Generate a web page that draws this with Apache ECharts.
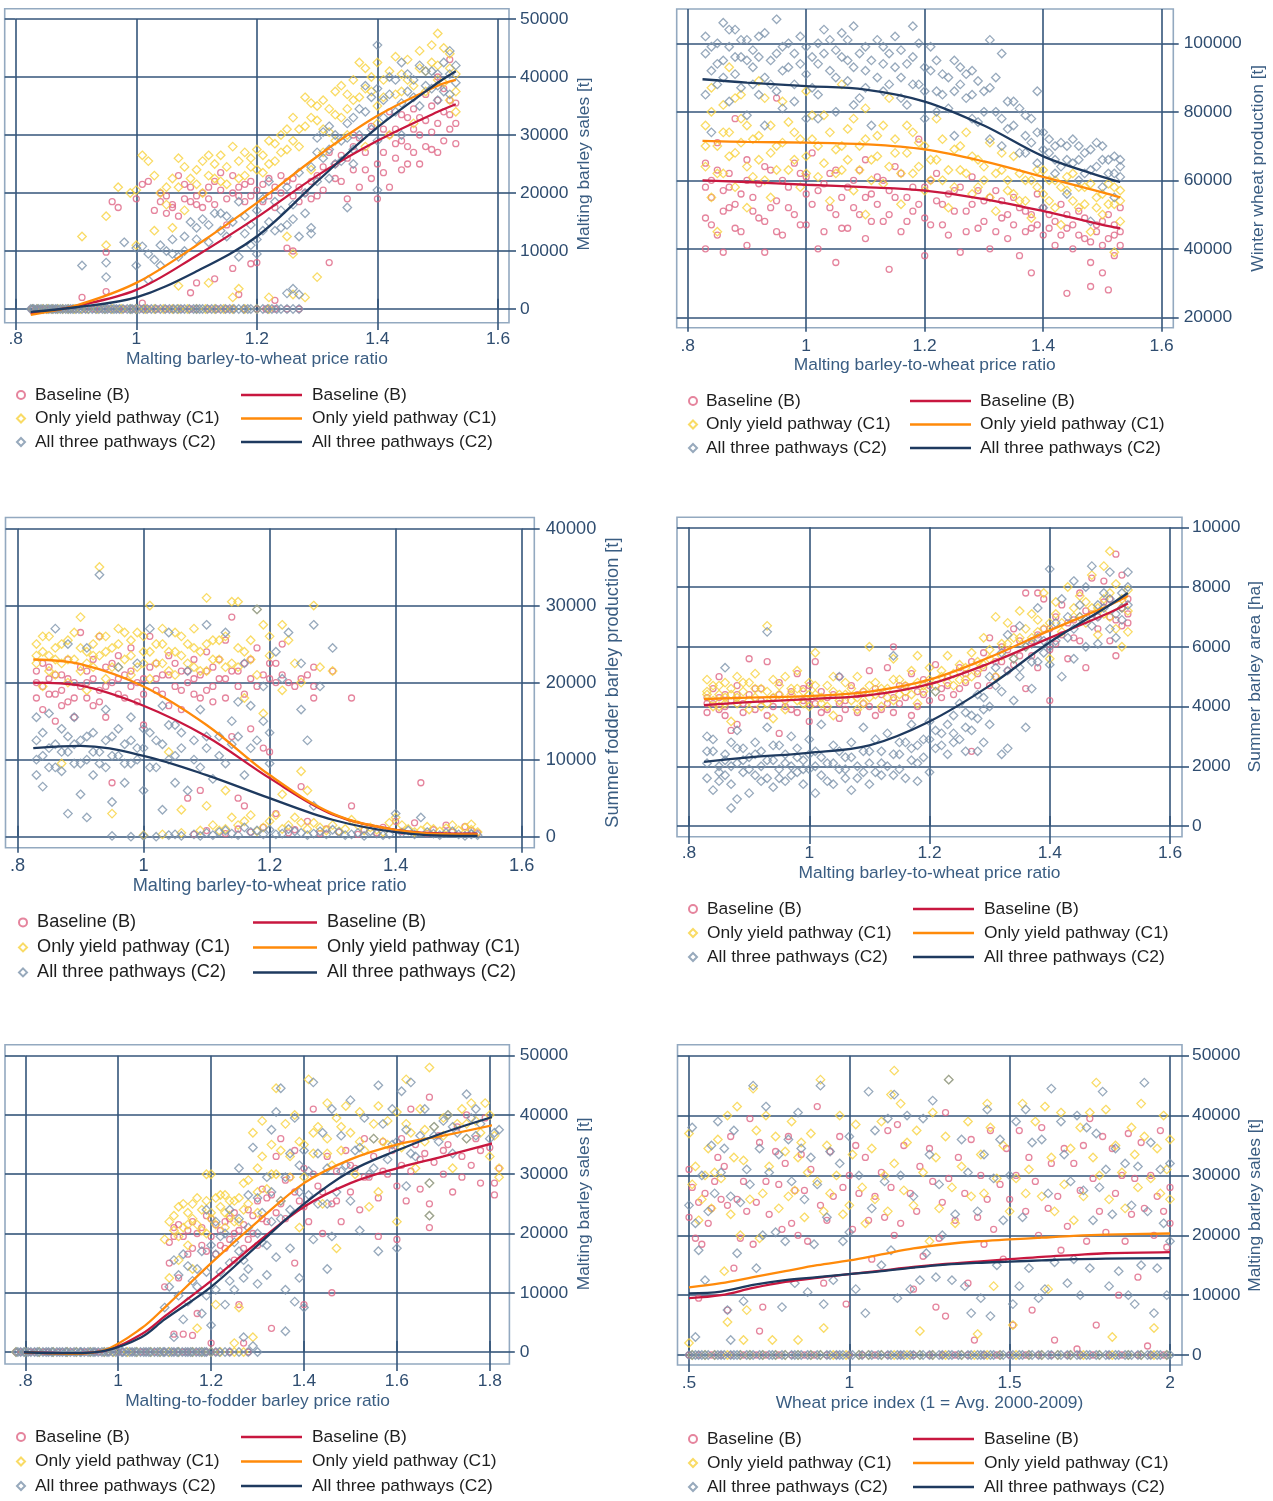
<!DOCTYPE html>
<html>
<head>
<meta charset="utf-8">
<script src="https://cdn.jsdelivr.net/npm/echarts@6/dist/echarts.min.js"></script>
<style>html,body{margin:0;padding:0;background:#fff}#c{width:1273px;height:1501px}</style>
</head>
<body>
<div id="c"></div>
<script>
// ---------- Series names ----------
const NAMES = ['Baseline (B)', 'Only yield pathway (C1)', 'All three pathways (C2)'];

// ---------- Panel 1: Malting barley sales vs malting barley-to-wheat price ratio ----------
const P1_B = [[0.91,2000],[0.95,3000],[0.95,9800],[0.96,18500],[0.97,17500],[1.01,1000],[1.01,21500],[1.02,22000],[1.04,20000],[1.04,18500],[1.05,16500],[1.06,17500],[1.06,18000],[1.07,16000],[1.07,23000],[1.08,19000],[1.09,2800],[1.09,18500],[1.1,19500],[1.1,4500],[1.1,18000],[1.11,20000],[1.12,21000],[1.12,19000],[1.13,5200],[1.13,18000],[1.13,22000],[1.14,20500],[1.15,19000],[1.15,14500],[1.16,23000],[1.16,7000],[1.17,19500],[1.17,21000],[1.17,2500],[1.18,18500],[1.19,22000],[1.19,7800],[1.2,20500],[1.2,8000],[1.21,21500],[1.22,19500],[1.22,22500],[1.23,21000],[1.23,1500],[1.24,20000],[1.25,22000],[1.25,10500],[1.26,19500],[1.26,10000],[1.27,21000],[1.28,20000],[1.29,19000],[1.3,23000],[1.31,24500],[1.32,27000],[1.32,8000],[1.33,25000],[1.34,22000],[1.35,19000],[1.35,26000],[1.36,28000],[1.37,21000],[1.38,24000],[1.39,22500],[1.4,25000],[1.4,19000],[1.41,27000],[1.42,21000],[1.42,30000],[1.43,26000],[1.43,31000],[1.44,29000],[1.45,25000],[1.45,33000],[1.46,31000],[1.46,27000],[1.47,25000],[1.47,33000],[1.48,28000],[1.48,37000],[1.49,30500],[1.49,35000],[1.5,27000],[1.5,32000],[1.5,40000],[1.51,34000],[1.51,29000],[1.52,31000],[1.52,36000],[1.52,43000],[1.53,28500],[1.53,32000]];
const P1_B_MORE = [[1.0,19000],[1.03,17000],[1.08,21500],[1.11,17500],[1.14,23500],[1.18,21500],[1.21,18500],[1.24,23000],[1.27,18500],[1.29,22000],[1.31,20500],[1.33,22500],[1.34,26500],[1.36,24000],[1.37,29500],[1.38,27000],[1.39,31500],[1.41,23500],[1.43,28500],[1.44,33500],[1.45,28000],[1.46,34500],[1.47,30000],[1.48,32500],[1.49,27500],[1.5,36000],[1.51,38000],[1.52,33500],[1.53,35500],[1.44,24000],[1.41,31000],[1.36,30000],[1.3,19500],[1.23,17500],[1.16,20000],[1.09,21000],[1.05,19500],[1.19,19500],[1.26,22500],[1.42,34000]];
const P1_B_ZERO = [0.826,0.833,0.84,0.848,0.857,0.865,0.872,0.88,0.89,0.9,0.915,0.93,0.94,0.955,0.97,0.98,0.995,1.01,1.02,1.035,1.05,1.06,1.075,1.09,1.1,1.12,1.135,1.15,1.16,1.18,1.2,1.215,1.23,1.25,1.27];
const P1_C1 = [[0.91,12500],[0.95,16000],[0.95,11000],[0.97,21000],[0.99,20000],[1.0,11000],[1.01,26500],[1.02,25500],[1.03,13500],[1.04,20000],[1.05,21000],[1.05,18000],[1.06,14000],[1.07,26000],[1.07,21000],[1.07,4000],[1.08,17000],[1.09,22500],[1.1,24000],[1.11,20000],[1.12,26500],[1.12,23000],[1.12,4500],[1.13,25000],[1.14,22000],[1.15,24500],[1.16,28000],[1.16,2000],[1.17,25500],[1.17,3500],[1.18,23000],[1.19,26000],[1.2,24000],[1.21,26500],[1.22,25000],[1.22,2000],[1.23,28500],[1.24,30000],[1.25,27500],[1.25,12500],[1.26,29000],[1.26,9500],[1.26,2500],[1.27,31000],[1.28,36500],[1.28,2000],[1.29,33000],[1.29,24000],[1.3,35000],[1.3,5500],[1.31,31000],[1.31,27000],[1.32,34500],[1.33,37500],[1.33,29000],[1.34,33000],[1.35,37000],[1.35,30000],[1.36,36000],[1.37,42500],[1.38,38000],[1.38,28000],[1.39,40000],[1.4,35000],[1.4,32000],[1.41,39500],[1.42,41000],[1.42,30000],[1.43,37000],[1.44,40500],[1.45,43000],[1.46,38500],[1.46,32000],[1.47,44500],[1.48,41000],[1.49,45500],[1.5,47500],[1.5,42000],[1.51,39000],[1.52,44000],[1.52,36000],[1.53,40500],[1.53,34000]];
const P1_C1_MORE = [[1.0,20500],[1.03,23000],[1.06,22500],[1.08,24500],[1.1,21500],[1.11,25500],[1.13,22500],[1.14,26500],[1.15,21500],[1.17,22500],[1.18,27000],[1.19,24500],[1.2,27500],[1.21,23500],[1.22,29000],[1.23,25500],[1.24,27000],[1.25,31000],[1.26,33000],[1.27,28000],[1.28,31500],[1.29,35500],[1.3,32500],[1.31,36000],[1.32,30500],[1.33,33500],[1.34,38500],[1.35,34500],[1.36,39500],[1.37,36500],[1.38,41500],[1.39,37500],[1.4,42500],[1.41,36500],[1.43,43500],[1.44,37500],[1.45,39500],[1.47,41500],[1.48,37500],[1.49,42500],[1.5,39500],[1.51,45000],[1.52,41500],[1.53,37500]];
const P1_C1_ZERO = [0.828,0.836,0.845,0.853,0.861,0.87,0.878,0.887,0.897,0.908,0.92,0.935,0.948,0.96,0.975,0.99,1.0,1.015,1.03,1.045,1.06,1.07,1.085,1.1,1.115,1.13,1.145,1.16,1.18,1.2,1.22];
const P1_C2 = [[0.91,7500],[0.95,5500],[0.95,8000],[0.98,11500],[1.0,10500],[1.0,7500],[1.01,10800],[1.02,5000],[1.03,8500],[1.04,7500],[1.05,10000],[1.06,9500],[1.07,9000],[1.08,12500],[1.09,15000],[1.1,12000],[1.11,15500],[1.12,14500],[1.13,16500],[1.14,13500],[1.15,16000],[1.16,15000],[1.17,18500],[1.17,9000],[1.18,13000],[1.19,11000],[1.2,17000],[1.2,9500],[1.21,19000],[1.21,13500],[1.22,22000],[1.22,15000],[1.23,13500],[1.24,17000],[1.25,14500],[1.25,21000],[1.25,2700],[1.26,18000],[1.26,3500],[1.27,12500],[1.27,23500],[1.27,2500],[1.28,16500],[1.29,13000],[1.29,14000],[1.3,22000],[1.3,29500],[1.31,26000],[1.32,31500],[1.32,22500],[1.33,25000],[1.34,29000],[1.35,17500],[1.35,32000],[1.36,27500],[1.36,25000],[1.37,34500],[1.38,38500],[1.39,31000],[1.4,29000],[1.4,20500],[1.4,45500],[1.41,36000],[1.42,40000],[1.43,34000],[1.44,42500],[1.44,30000],[1.45,37500],[1.46,39500],[1.47,35000],[1.48,41000],[1.49,38000],[1.5,40500],[1.5,36000],[1.51,42500],[1.52,37000],[1.52,44500],[1.53,39000]];
const P1_C2_MORE = [[1.02,9500],[1.04,11000],[1.06,12000],[1.08,10000],[1.1,14000],[1.12,11500],[1.14,16500],[1.15,12500],[1.18,16000],[1.19,14500],[1.2,12000],[1.23,18500],[1.24,14000],[1.26,15500],[1.28,20000],[1.29,24500],[1.3,27000],[1.31,30500],[1.32,27500],[1.33,30000],[1.34,25500],[1.35,29500],[1.36,33000],[1.37,30000],[1.38,34000],[1.39,36500],[1.4,38000],[1.41,33000],[1.42,37000],[1.43,39500],[1.44,35500],[1.45,40500],[1.46,36500],[1.47,42000],[1.48,38500],[1.49,41000],[1.5,38500],[1.51,37500],[1.52,40500],[1.53,42000]];
const P1_C2_ZERO = [0.825,0.828,0.83,0.835,0.838,0.842,0.846,0.851,0.855,0.859,0.862,0.866,0.869,0.874,0.878,0.883,0.887,0.891,0.895,0.9,0.905,0.91,0.916,0.921,0.927,0.933,0.938,0.944,0.948,0.952,0.958,0.963,0.967,0.972,0.978,0.985,0.99,0.993,0.999,1.005,1.012,1.018,1.025,1.032,1.04,1.048,1.055,1.062,1.068,1.074,1.08,1.088,1.095,1.1,1.105,1.11,1.118,1.125,1.132,1.14,1.148,1.155,1.162,1.17,1.178,1.185,1.19,1.2,1.21,1.218,1.225,1.233,1.24,1.25,1.26,1.27];
const P1_FIT_B  = [[0.825,-800],[0.9,500],[1.0,3300],[1.1,9200],[1.2,15800],[1.3,23000],[1.4,29000],[1.5,34000],[1.53,35300]];
const P1_FIT_C1 = [[0.825,-1000],[0.9,600],[1.0,4500],[1.1,11000],[1.2,18300],[1.3,26300],[1.4,33300],[1.5,38500],[1.53,39500]];
const P1_FIT_C2 = [[0.825,-500],[0.9,300],[1.0,2000],[1.1,6500],[1.2,12500],[1.3,22000],[1.4,31300],[1.5,39000],[1.53,41000]];

// ---------- Panel 2: Winter wheat production ----------
const P2_B = [[0.83,65000],[0.83,49000],[0.83,40000],[0.84,55000],[0.84,60000],[0.85,44000],[0.85,71000],[0.86,57000],[0.86,39000],[0.87,52000],[0.87,62000],[0.88,78000],[0.88,46000],[0.89,56000],[0.9,66000],[0.9,41000],[0.91,51000],[0.92,59000],[0.93,48000],[0.93,39000],[0.94,63000],[0.95,54000],[0.95,84000],[0.96,44000],[0.97,58000],[0.98,50000],[0.99,62000],[1.0,56000],[1.0,47000],[1.01,68000],[1.02,40000],[1.03,59000],[1.04,52000],[1.05,36000],[1.05,63000],[1.06,55000],[1.07,46000],[1.08,60000],[1.09,50000],[1.1,66000],[1.1,43000],[1.11,56000],[1.12,61000],[1.13,48000],[1.14,34000],[1.14,57000],[1.15,64000],[1.16,45000],[1.17,55000],[1.18,51000],[1.19,72000],[1.2,38000],[1.2,58000],[1.21,47000],[1.22,62000],[1.23,53000],[1.24,44000],[1.25,57000],[1.26,39000],[1.27,51000],[1.28,61000],[1.29,46000],[1.3,54000],[1.31,40000],[1.32,57000],[1.33,49000],[1.34,43000],[1.35,55000],[1.36,38000],[1.37,51000],[1.38,33000],[1.38,46000],[1.39,56000],[1.4,44000],[1.41,50000],[1.42,41000],[1.43,53000],[1.44,27000],[1.44,46000],[1.45,40000],[1.46,51000],[1.47,43000],[1.48,36000],[1.48,29000],[1.49,47000],[1.5,41000],[1.5,33000],[1.51,28000],[1.51,50000],[1.52,38000],[1.52,44000],[1.53,41000],[1.53,52000]];
const P2_B_MORE = [[0.83,58000],[0.84,47000],[0.85,63000],[0.86,51000],[0.87,58000],[0.88,53000],[0.89,45000],[0.9,60000],[0.91,55000],[0.92,49000],[0.93,64000],[0.94,52000],[0.95,45000],[0.96,60000],[0.97,52000],[0.98,65000],[0.99,47000],[1.0,61000],[1.01,53000],[1.02,57000],[1.03,45000],[1.04,62000],[1.05,50000],[1.06,46000],[1.07,58000],[1.08,52000],[1.09,63000],[1.1,55000],[1.11,48000],[1.12,53000],[1.13,60000],[1.14,50000],[1.15,55000],[1.16,62000],[1.17,48000],[1.18,58000],[1.19,53000],[1.2,49000],[1.21,60000],[1.22,54000],[1.23,47000],[1.24,56000],[1.25,51000],[1.26,58000],[1.27,45000],[1.28,53000],[1.29,57000],[1.3,48000],[1.31,55000],[1.32,45000],[1.33,54000],[1.34,50000],[1.35,47000],[1.36,52000],[1.37,45000],[1.38,50000],[1.39,47000],[1.4,52000],[1.41,46000],[1.42,48000],[1.43,44000],[1.44,50000],[1.45,47000],[1.46,44000],[1.47,49000],[1.48,42000],[1.49,45000],[1.5,48000],[1.51,43000],[1.52,47000],[1.53,45000]];
const P2_C1 = [[0.83,76000],[0.83,64000],[0.84,55000],[0.84,87000],[0.85,70000],[0.85,45000],[0.86,82000],[0.86,62000],[0.87,74000],[0.87,93000],[0.88,58000],[0.88,68000],[0.89,78000],[0.89,85000],[0.9,64000],[0.9,52000],[0.91,72000],[0.92,89000],[0.92,66000],[0.93,60000],[0.94,76000],[0.94,55000],[0.95,70000],[0.96,83000],[0.97,63000],[0.98,74000],[0.99,58000],[1.0,67000],[1.0,86000],[1.01,72000],[1.02,61000],[1.03,79000],[1.04,54000],[1.05,69000],[1.06,88000],[1.06,63000],[1.07,75000],[1.08,57000],[1.09,70000],[1.1,81000],[1.1,50000],[1.11,66000],[1.12,73000],[1.13,59000],[1.14,84000],[1.15,68000],[1.16,53000],[1.17,76000],[1.18,62000],[1.19,71000],[1.2,57000],[1.21,66000],[1.22,78000],[1.23,60000],[1.24,52000],[1.25,69000],[1.26,63000],[1.27,74000],[1.28,56000],[1.29,66000],[1.3,60000],[1.31,71000],[1.32,51000],[1.33,63000],[1.34,57000],[1.35,67000],[1.36,54000],[1.37,60000],[1.38,49000],[1.39,58000],[1.4,63000],[1.41,54000],[1.42,60000],[1.43,47000],[1.44,57000],[1.45,62000],[1.46,52000],[1.47,58000],[1.48,45000],[1.49,55000],[1.5,50000],[1.51,59000],[1.52,53000],[1.52,39000],[1.53,48000],[1.53,57000]];
const P2_C1_MORE = [[0.83,70000],[0.84,80000],[0.85,62000],[0.86,74000],[0.87,67000],[0.88,84000],[0.89,71000],[0.9,76000],[0.91,61000],[0.92,73000],[0.93,84000],[0.94,68000],[0.95,63000],[0.96,71000],[0.97,77000],[0.98,66000],[0.99,72000],[1.0,62000],[1.01,79000],[1.02,70000],[1.03,65000],[1.04,74000],[1.05,62000],[1.06,70000],[1.07,66000],[1.08,78000],[1.09,63000],[1.1,72000],[1.11,60000],[1.12,67000],[1.13,76000],[1.14,64000],[1.15,72000],[1.16,62000],[1.17,68000],[1.18,74000],[1.19,64000],[1.2,70000],[1.21,60000],[1.22,66000],[1.23,72000],[1.24,63000],[1.25,58000],[1.26,70000],[1.27,62000],[1.28,67000],[1.29,58000],[1.3,64000],[1.31,55000],[1.32,62000],[1.33,68000],[1.34,60000],[1.35,56000],[1.36,62000],[1.37,54000],[1.38,60000],[1.39,63000],[1.4,56000],[1.41,60000],[1.42,52000],[1.43,58000],[1.44,61000],[1.45,54000],[1.46,58000],[1.47,53000],[1.48,59000],[1.49,52000],[1.5,56000],[1.51,53000],[1.52,58000],[1.53,54000]];
const P2_C2 = [[0.83,97000],[0.83,102000],[0.84,92000],[0.84,74000],[0.85,100000],[0.85,88000],[0.86,106000],[0.86,95000],[0.87,83000],[0.87,99000],[0.88,91000],[0.88,104000],[0.89,87000],[0.89,96000],[0.9,101000],[0.9,79000],[0.91,93000],[0.91,98000],[0.92,85000],[0.92,102000],[0.93,90000],[0.93,76000],[0.94,95000],[0.95,107000],[0.95,86000],[0.96,99000],[0.96,81000],[0.97,93000],[0.98,97000],[0.98,88000],[0.99,102000],[1.0,91000],[1.0,78000],[1.01,96000],[1.02,100000],[1.02,85000],[1.03,104000],[1.04,92000],[1.05,98000],[1.05,80000],[1.06,103000],[1.07,89000],[1.07,95000],[1.08,105000],[1.09,84000],[1.1,99000],[1.1,92000],[1.11,76000],[1.12,101000],[1.13,94000],[1.13,86000],[1.14,97000],[1.15,102000],[1.16,90000],[1.17,82000],[1.18,96000],[1.18,105000],[1.19,88000],[1.2,93000],[1.2,78000],[1.21,99000],[1.22,86000],[1.23,91000],[1.24,81000],[1.25,95000],[1.25,73000],[1.26,88000],[1.27,84000],[1.28,92000],[1.29,77000],[1.3,86000],[1.31,101000],[1.31,72000],[1.32,80000],[1.33,97000],[1.34,75000],[1.35,83000],[1.36,68000],[1.37,79000],[1.38,71000],[1.39,86000],[1.39,65000],[1.4,74000],[1.4,52000],[1.41,68000],[1.42,62000],[1.43,71000],[1.44,66000],[1.44,56000],[1.45,72000],[1.46,60000],[1.47,68000],[1.48,63000],[1.48,48000],[1.49,71000],[1.5,58000],[1.5,66000],[1.51,62000],[1.52,67000],[1.52,55000],[1.53,61000],[1.53,64000]];
const P2_C2_MORE = [[0.83,85000],[0.84,99000],[0.85,94000],[0.86,90000],[0.87,104000],[0.88,96000],[0.89,101000],[0.9,95000],[0.91,88000],[0.92,96000],[0.93,103000],[0.94,88000],[0.95,97000],[0.96,92000],[0.97,100000],[0.98,83000],[0.99,94000],[1.0,99000],[1.01,87000],[1.02,94000],[1.03,97000],[1.04,101000],[1.05,90000],[1.06,96000],[1.07,101000],[1.08,93000],[1.09,97000],[1.1,87000],[1.11,95000],[1.12,90000],[1.13,99000],[1.14,88000],[1.15,93000],[1.16,98000],[1.17,94000],[1.18,88000],[1.19,100000],[1.2,86000],[1.21,92000],[1.22,95000],[1.23,85000],[1.24,90000],[1.25,86000],[1.26,93000],[1.27,91000],[1.28,85000],[1.29,89000],[1.3,80000],[1.31,87000],[1.32,90000],[1.33,78000],[1.34,83000],[1.35,76000],[1.36,81000],[1.37,73000],[1.38,78000],[1.39,74000],[1.4,69000],[1.41,72000],[1.42,66000],[1.43,64000],[1.44,70000],[1.45,65000],[1.46,70000],[1.47,62000],[1.48,69000],[1.49,64000],[1.5,70000],[1.51,66000],[1.52,62000],[1.53,66000],[1.46,66000],[1.42,70000],[1.37,68000],[1.33,70000],[1.28,78000],[1.22,80000],[1.16,84000],[1.08,82000],[1.02,78000]];
const P2_FIT_B  = [[0.825,60000],[0.9,59500],[1.0,58700],[1.1,58000],[1.2,57000],[1.3,54500],[1.4,51000],[1.5,47000],[1.53,46000]];
const P2_FIT_C1 = [[0.825,71500],[0.9,71200],[1.0,71000],[1.1,70500],[1.2,69000],[1.3,65500],[1.4,61000],[1.5,56500],[1.53,55000]];
const P2_FIT_C2 = [[0.825,89500],[0.9,88500],[1.0,87500],[1.1,86500],[1.2,83000],[1.3,76000],[1.4,67000],[1.5,61000],[1.53,59500]];

// ---------- Panel 3: Summer fodder barley production ----------
const P3_B = [[0.83,18000],[0.83,21500],[0.84,19500],[0.84,16500],[0.85,20500],[0.85,22000],[0.86,18500],[0.86,15000],[0.87,21000],[0.87,19000],[0.88,17500],[0.88,23000],[0.89,20000],[0.89,15500],[0.9,26500],[0.9,19500],[0.91,18000],[0.91,21500],[0.92,17000],[0.92,20500],[0.93,26000],[0.93,19000],[0.94,22000],[0.94,15500],[0.95,7000],[0.95,20000],[0.96,18500],[0.96,23500],[0.97,21000],[0.98,19500],[0.98,24500],[0.99,17500],[1.0,20500],[1.0,14500],[1.01,26000],[1.02,22500],[1.02,19000],[1.03,21000],[1.04,17000],[1.04,23500],[1.05,19500],[1.06,21500],[1.06,16500],[1.07,5000],[1.07,20000],[1.08,23000],[1.08,18500],[1.09,6000],[1.09,21000],[1.1,24000],[1.1,19000],[1.11,17500],[1.11,22000],[1.12,20500],[1.13,25500],[1.13,18000],[1.14,13000],[1.14,28500],[1.14,21500],[1.15,5000],[1.15,19500],[1.16,4000],[1.16,22500],[1.17,14000],[1.17,20500],[1.18,24500],[1.19,11500],[1.19,21000],[1.2,11000],[1.2,22500],[1.21,20000],[1.21,3000],[1.22,25000],[1.22,21000],[1.24,19500],[1.25,6500],[1.25,20500],[1.26,2000],[1.27,18000],[1.27,19500],[1.27,22000],[1.3,21500],[1.33,18000],[1.33,4000],[1.4,2000],[1.43,1800],[1.44,7000],
  [1.08,300],[1.1,800],[1.13,400],[1.15,1000],[1.17,600],[1.19,1200],[1.23,500],[1.24,900],[1.28,400],[1.29,1000],[1.31,600],[1.34,300],[1.35,900],[1.37,500],[1.38,1200],[1.41,700],[1.45,400],[1.46,900],[1.48,1500],[1.49,600],[1.51,1300],[1.52,800],[1.53,500]];
const P3_B_MORE = [[0.83,20000],[0.84,22500],[0.85,18500],[0.86,21000],[0.87,17000],[0.88,20500],[0.89,18000],[0.9,22000],[0.91,20000],[0.92,23000],[0.93,17500],[0.94,19500],[0.95,22500],[0.96,20500],[0.97,18000],[0.98,21500],[0.99,20000],[1.0,18500],[1.01,22000],[1.02,20500],[1.03,18500],[1.04,21000],[1.05,22500],[1.06,19000],[1.07,21500],[1.08,20500],[1.09,18000],[1.1,21500],[1.11,19500],[1.12,23000],[1.13,20500],[1.15,21500],[1.16,18500],[1.17,23000],[1.18,19500],[1.2,20500],[1.21,22500],[1.23,20000],[1.26,21000]];
const P3_C1 = [[0.83,25000],[0.83,22500],[0.84,24000],[0.84,19500],[0.85,23500],[0.85,26000],[0.86,21000],[0.86,24500],[0.87,22500],[0.87,9500],[0.88,25500],[0.88,20000],[0.89,23000],[0.9,28500],[0.9,21500],[0.91,24000],[0.91,19000],[0.92,25000],[0.92,22000],[0.93,35000],[0.93,23500],[0.94,20500],[0.94,26000],[0.95,3000],[0.95,24500],[0.96,22000],[0.96,27000],[0.97,23000],[0.98,25500],[0.98,21000],[0.99,26500],[1.0,22500],[1.0,24000],[1.01,30000],[1.01,20500],[1.02,25000],[1.03,27000],[1.03,22500],[1.04,11000],[1.04,24000],[1.05,26500],[1.05,21000],[1.06,3500],[1.06,23500],[1.07,25000],[1.08,22000],[1.08,27000],[1.09,24000],[1.1,31000],[1.1,4000],[1.1,21500],[1.11,25500],[1.12,23000],[1.13,6000],[1.13,26000],[1.14,30500],[1.14,22500],[1.15,30500],[1.15,24500],[1.16,18000],[1.17,25500],[1.18,29500],[1.18,21000],[1.19,16000],[1.19,27500],[1.2,26000],[1.22,27500],[1.22,19000],[1.22,5500],[1.24,22500],[1.25,8500],[1.25,20000],[1.26,6000],[1.27,30000],[1.28,22000],[1.3,21500],
  [1.0,200],[1.03,300],[1.06,500],[1.09,800],[1.11,1500],[1.13,1000],[1.14,2500],[1.16,2000],[1.17,2800],[1.19,1200],[1.2,2000],[1.21,2800],[1.23,1500],[1.24,2500],[1.26,1000],[1.27,1800],[1.29,800],[1.3,1500],[1.32,1000],[1.33,2200],[1.35,800],[1.36,1200],[1.38,600],[1.4,2500],[1.41,1500],[1.42,1000],[1.44,800],[1.45,1300],[1.47,700],[1.48,1100],[1.5,800],[1.51,1200],[1.52,1600],[1.53,600]];
const P3_C1_MORE = [[0.83,23500],[0.84,26000],[0.85,21500],[0.86,23000],[0.87,25000],[0.88,23000],[0.89,26500],[0.9,24500],[0.91,22500],[0.92,23500],[0.93,26000],[0.94,24000],[0.95,22000],[0.96,25000],[0.97,26500],[0.98,23500],[0.99,22000],[1.0,26000],[1.01,24000],[1.02,22500],[1.03,25000],[1.04,21500],[1.05,24000],[1.06,26000],[1.07,22500],[1.08,24500],[1.09,21500],[1.1,25000],[1.11,23000],[1.12,25500],[1.13,22000],[1.15,22000],[1.16,24000],[1.17,23000],[1.2,23500],[1.23,25500],
  [1.12,800],[1.15,1500],[1.18,700],[1.22,1000],[1.25,1800],[1.28,1200],[1.31,700],[1.34,1500],[1.37,900],[1.39,1800],[1.43,600],[1.46,1000],[1.49,1500],[1.52,900]];
const P3_C2 = [[0.83,15500],[0.83,8000],[0.83,12500],[0.84,10500],[0.84,6500],[0.85,16000],[0.85,9000],[0.86,12000],[0.86,27000],[0.87,8500],[0.87,14000],[0.88,11000],[0.88,3000],[0.88,25000],[0.89,9500],[0.89,15500],[0.9,12500],[0.9,5500],[0.91,10000],[0.91,24500],[0.91,2500],[0.92,13500],[0.92,8000],[0.93,34000],[0.93,11000],[0.94,16500],[0.94,9000],[0.95,4500],[0.95,13000],[0.96,10500],[0.96,22000],[0.97,7000],[0.97,12000],[0.98,15500],[0.98,9500],[0.99,22500],[0.99,11500],[1.0,6000],[1.0,14000],[1.01,27000],[1.01,9000],[1.02,12500],[1.03,3500],[1.03,17000],[1.04,10000],[1.04,26500],[1.05,7000],[1.05,14500],[1.06,11500],[1.07,6000],[1.07,21500],[1.08,12500],[1.09,9000],[1.09,16500],[1.1,27500],[1.1,11500],[1.11,7500],[1.12,13000],[1.13,26500],[1.13,9500],[1.14,15000],[1.15,13000],[1.16,22500],[1.16,8000],[1.17,17000],[1.18,29500],[1.18,12500],[1.19,15000],[1.2,9500],[1.21,24000],[1.22,20500],[1.23,26500],[1.25,16500],[1.25,22500],[1.26,12500],[1.27,27500],[1.27,4000],[1.28,19500],[1.3,24500],
  [0.95,100],[0.98,0],[1.0,100],[1.02,0],[1.04,200],[1.06,100],[1.08,300],[1.1,500],[1.11,200],[1.13,800],[1.14,400],[1.16,1200],[1.17,600],[1.19,300],[1.2,900],[1.22,400],[1.23,1000],[1.25,500],[1.26,200],[1.28,700],[1.29,300],[1.31,600],[1.32,200],[1.34,500],[1.35,100],[1.37,400],[1.38,200],[1.4,3000],[1.41,500],[1.43,300],[1.44,2500],[1.45,600],[1.47,200],[1.48,500],[1.5,300],[1.51,100],[1.52,400],[1.53,200]];
const P3_C2_MORE = [[0.83,10000],[0.84,13500],[0.85,11500],[0.86,9000],[0.87,11000],[0.88,13000],[0.89,12000],[0.9,9500],[0.91,13000],[0.92,11000],[0.93,9500],[0.94,12500],[0.95,10500],[0.96,14000],[0.97,9500],[0.98,12500],[0.99,10000],[1.0,11500],[1.01,13500],[1.02,9000],[1.03,12000],[1.04,14500],[1.05,10500],[1.06,13500],[1.08,10000],[1.1,13000],[1.12,10500],[1.14,12000],[1.15,17500],[1.17,11500],[1.19,19500],[1.2,13500],
  [1.05,300],[1.09,100],[1.12,600],[1.15,200],[1.18,800],[1.21,300],[1.24,700],[1.27,400],[1.3,900],[1.33,300],[1.36,700],[1.39,300],[1.42,800],[1.46,400],[1.49,700],[1.52,300]];
const P3_FIT_B  = [[0.825,20000],[0.9,19600],[1.0,17000],[1.1,13000],[1.2,7600],[1.3,2900],[1.4,900],[1.5,400],[1.53,400]];
const P3_FIT_C1 = [[0.825,23000],[0.9,22400],[1.0,19500],[1.1,14500],[1.2,8000],[1.3,3000],[1.4,900],[1.5,300],[1.53,300]];
const P3_FIT_C2 = [[0.825,11500],[0.9,11800],[1.0,10500],[1.1,8000],[1.2,5000],[1.3,2200],[1.4,600],[1.5,100],[1.53,100]];

// ---------- Panel 4: Summer barley area ----------
const P4_B = [[0.83,4300],[0.83,3800],[0.84,4600],[0.84,4100],[0.85,5000],[0.85,3900],[0.86,4400],[0.86,3700],[0.87,4200],[0.87,3200],[0.88,4700],[0.88,3400],[0.89,4100],[0.9,5600],[0.9,4400],[0.91,3900],[0.92,4600],[0.93,5500],[0.93,3700],[0.94,4300],[0.95,3100],[0.95,4800],[0.96,4000],[0.97,4500],[0.98,5100],[0.98,3800],[0.99,4200],[1.0,3500],[1.0,4700],[1.01,5500],[1.01,4100],[1.02,4500],[1.03,3900],[1.04,4400],[1.05,5000],[1.05,3600],[1.06,4200],[1.07,4700],[1.08,3800],[1.09,4500],[1.1,4000],[1.1,5200],[1.11,3700],[1.12,4400],[1.13,5300],[1.13,4100],[1.14,6000],[1.14,3800],[1.15,4700],[1.16,4300],[1.17,3700],[1.17,5100],[1.18,4500],[1.19,4900],[1.2,4200],[1.21,5400],[1.22,4600],[1.23,5000],[1.24,4400],[1.25,5300],[1.26,4800],[1.27,2500],[1.27,5500],[1.28,5100],[1.29,5800],[1.3,4700],[1.3,6300],[1.31,5500],[1.32,6000],[1.33,5200],[1.34,6600],[1.35,5700],[1.36,4600],[1.36,7800],[1.37,6200],[1.38,5300],[1.38,7800],[1.39,7600],[1.39,6600],[1.4,4200],[1.4,5900],[1.41,7000],[1.42,6400],[1.42,7400],[1.43,5600],[1.44,6900],[1.45,7800],[1.45,6200],[1.46,5300],[1.47,7100],[1.47,8300],[1.48,6600],[1.49,7500],[1.49,8200],[1.5,6200],[1.5,7000],[1.51,5700],[1.51,9100],[1.52,6700],[1.52,8400],[1.53,6800],[1.53,7600]];
const P4_B_MORE = [[0.83,4100],[0.85,4300],[0.86,4000],[0.88,4400],[0.89,3800],[0.91,4600],[0.92,4200],[0.94,4000],[0.95,4400],[0.97,3900],[0.99,4600],[1.0,4100],[1.02,3800],[1.03,4300],[1.05,4100],[1.06,3900],[1.08,4400],[1.09,4100],[1.11,4600],[1.12,3900],[1.14,4300],[1.15,4100],[1.16,4700],[1.18,4000],[1.19,4400],[1.2,4700],[1.22,4300],[1.23,4700],[1.25,4600],[1.26,5100],[1.28,4700],[1.29,5300],[1.31,5000],[1.32,5500],[1.33,5900],[1.34,5400],[1.35,6200],[1.37,5700],[1.38,6400],[1.4,6600],[1.41,6100],[1.43,6800],[1.44,6300],[1.46,7200],[1.48,7000],[1.5,7600],[1.51,6900],[1.52,7300],[1.53,7100]];
const P4_C1 = [[0.83,4500],[0.83,4900],[0.84,4200],[0.84,4700],[0.85,4400],[0.85,4000],[0.86,4800],[0.86,4300],[0.87,4600],[0.87,3500],[0.88,5000],[0.88,4100],[0.89,4500],[0.9,4800],[0.9,3900],[0.91,4300],[0.91,5100],[0.92,4600],[0.93,6700],[0.93,4100],[0.94,4900],[0.94,3600],[0.95,4400],[0.96,5000],[0.96,3900],[0.97,4600],[0.98,4200],[0.98,5200],[0.99,4500],[1.0,4000],[1.0,4800],[1.01,5800],[1.01,4400],[1.02,4100],[1.03,4700],[1.04,5000],[1.04,3700],[1.05,4400],[1.06,4800],[1.07,4200],[1.08,5000],[1.08,3900],[1.09,4500],[1.1,6000],[1.1,4300],[1.11,4800],[1.12,4000],[1.13,4600],[1.14,5600],[1.14,4200],[1.15,4900],[1.16,4500],[1.17,5200],[1.18,4100],[1.18,5700],[1.19,4700],[1.2,5300],[1.21,4500],[1.22,5000],[1.23,5700],[1.24,4700],[1.25,5400],[1.26,4900],[1.27,5800],[1.28,5200],[1.29,6300],[1.3,5600],[1.31,7000],[1.31,5000],[1.32,6100],[1.33,6800],[1.34,5600],[1.35,7200],[1.35,6300],[1.36,6000],[1.37,7100],[1.38,6500],[1.39,7800],[1.4,6800],[1.4,5600],[1.41,7500],[1.42,6500],[1.43,8000],[1.44,7000],[1.45,7700],[1.46,6800],[1.47,8400],[1.47,7300],[1.48,6400],[1.49,8700],[1.49,7600],[1.5,9200],[1.5,7000],[1.51,6600],[1.51,8100],[1.52,6000],[1.52,7300],[1.53,6500],[1.53,7900]];
const P4_C1_MORE = [[0.83,4400],[0.84,4000],[0.85,4700],[0.86,4100],[0.87,4400],[0.88,4300],[0.89,4800],[0.9,4200],[0.91,4600],[0.92,4000],[0.93,4500],[0.94,4300],[0.95,4700],[0.96,4200],[0.97,4400],[0.98,4600],[0.99,4100],[1.0,4400],[1.01,4700],[1.02,4300],[1.03,4000],[1.04,4500],[1.05,4200],[1.06,4400],[1.07,4600],[1.08,4300],[1.09,4100],[1.1,4700],[1.11,4400],[1.12,4600],[1.13,4300],[1.14,4900],[1.15,4400],[1.16,4700],[1.17,4400],[1.18,4800],[1.19,4500],[1.2,4900],[1.21,4700],[1.22,5200],[1.23,4800],[1.24,5100],[1.25,4900],[1.26,5300],[1.27,5000],[1.28,5500],[1.29,5400],[1.3,5900],[1.32,5700],[1.33,6100],[1.34,6300],[1.36,6600],[1.37,6300],[1.38,6900],[1.39,6600],[1.41,7100],[1.42,6800],[1.44,7300],[1.45,7000],[1.46,7500],[1.48,7300],[1.49,7100],[1.5,7800],[1.52,7600],[1.53,7200]];
const P4_C2 = [[0.83,3000],[0.83,1600],[0.83,2500],[0.84,1200],[0.84,2900],[0.85,2000],[0.85,1500],[0.86,5300],[0.86,2400],[0.86,1700],[0.87,2800],[0.87,600],[0.87,1400],[0.88,2100],[0.88,900],[0.88,3200],[0.89,1800],[0.89,2600],[0.9,1100],[0.9,2300],[0.91,1700],[0.91,2800],[0.92,2000],[0.92,2500],[0.93,6500],[0.93,1600],[0.93,3300],[0.94,2200],[0.94,1300],[0.95,2700],[0.95,1900],[0.96,2400],[0.96,1500],[0.97,2000],[0.97,3000],[0.98,1800],[0.98,2600],[0.99,1400],[0.99,2200],[1.0,2900],[1.0,1900],[1.01,1100],[1.01,2500],[1.02,1700],[1.02,3400],[1.03,2100],[1.04,1400],[1.04,2700],[1.05,1900],[1.05,5000],[1.06,2300],[1.06,1600],[1.07,2800],[1.07,1200],[1.08,2000],[1.09,3300],[1.09,1800],[1.1,2500],[1.1,1400],[1.11,2900],[1.12,2100],[1.12,1700],[1.13,3100],[1.14,2400],[1.14,5700],[1.15,1900],[1.15,2800],[1.16,1600],[1.17,2600],[1.17,3400],[1.18,2100],[1.18,1500],[1.19,2900],[1.2,3500],[1.2,1800],[1.21,2600],[1.21,4500],[1.22,3100],[1.23,2400],[1.24,3700],[1.24,2800],[1.25,4100],[1.26,3300],[1.26,2500],[1.27,3700],[1.28,4400],[1.28,2500],[1.29,3900],[1.29,2800],[1.3,5000],[1.3,3400],[1.31,4700],[1.32,2400],[1.32,5800],[1.33,2600],[1.33,6400],[1.34,4200],[1.35,6700],[1.35,5300],[1.36,3300],[1.37,6100],[1.37,4600],[1.38,7300],[1.38,5500],[1.39,6200],[1.4,8600],[1.4,5400],[1.41,6800],[1.42,5000],[1.42,7600],[1.43,6300],[1.44,8200],[1.44,5600],[1.45,7000],[1.46,6000],[1.46,8000],[1.47,6700],[1.47,8700],[1.48,7400],[1.48,6100],[1.49,7800],[1.5,6600],[1.5,8500],[1.51,7100],[1.51,6300],[1.52,7800],[1.52,6900],[1.53,8500],[1.53,7400]];
const P4_C2_MORE = [[0.83,2100],[0.84,2500],[0.85,1800],[0.86,2200],[0.87,2000],[0.88,2600],[0.89,2200],[0.9,1900],[0.91,2400],[0.92,1500],[0.93,2200],[0.94,2700],[0.95,1600],[0.96,2100],[0.97,1700],[0.98,2300],[0.99,1900],[1.0,2400],[1.01,2000],[1.02,2300],[1.03,1500],[1.04,2100],[1.05,2500],[1.06,1900],[1.07,2300],[1.08,1600],[1.09,2500],[1.1,2100],[1.11,1800],[1.12,2500],[1.13,2000],[1.14,1700],[1.15,2400],[1.16,2800],[1.17,2200],[1.18,2700],[1.19,2300],[1.2,2900],[1.21,3200],[1.22,2700],[1.23,3400],[1.24,3100],[1.25,2900],[1.26,3800],[1.27,3200],[1.28,3600],[1.29,4300],[1.3,4000],[1.31,5300],[1.32,4500],[1.33,5200],[1.34,5600],[1.35,5000],[1.36,6000],[1.37,5500],[1.38,6300],[1.39,5800],[1.4,6000],[1.41,6200],[1.43,7000],[1.44,6600],[1.45,7400],[1.46,6900],[1.48,7000],[1.49,7300],[1.5,7600],[1.52,7300],[1.53,8000]];
const P4_FIT_B  = [[0.825,4050],[0.9,4150],[1.0,4250],[1.1,4380],[1.2,4750],[1.3,5450],[1.4,6300],[1.5,7150],[1.53,7450]];
const P4_FIT_C1 = [[0.825,4250],[0.9,4300],[1.0,4350],[1.1,4500],[1.2,4900],[1.3,5650],[1.4,6550],[1.5,7400],[1.53,7700]];
const P4_FIT_C2 = [[0.825,2150],[0.9,2300],[1.0,2450],[1.1,2700],[1.2,3500],[1.3,4700],[1.4,6150],[1.5,7400],[1.53,7800]];

// ---------- Panel 5: Malting barley sales vs malting-to-fodder barley price ratio ----------
const P5_B = [[1.1,11000],[1.11,18500],[1.12,3000],[1.12,21000],[1.13,12500],[1.14,19500],[1.14,3000],[1.15,16500],[1.16,22000],[1.16,2800],[1.17,6500],[1.17,20000],[1.18,18000],[1.19,23000],[1.2,1500],[1.2,19500],[1.21,16500],[1.21,21500],[1.22,18000],[1.23,22000],[1.24,19000],[1.25,15500],[1.25,23500],[1.26,8000],[1.26,20500],[1.27,1500],[1.27,17500],[1.28,24000],[1.29,20000],[1.3,25500],[1.3,18000],[1.31,27500],[1.32,22000],[1.33,4000],[1.33,26500],[1.34,33000],[1.35,25000],[1.35,36000],[1.36,22500],[1.37,29500],[1.38,34000],[1.38,15000],[1.39,25500],[1.4,8000],[1.4,31000],[1.41,22000],[1.42,41000],[1.43,28000],[1.44,20000],[1.45,33000],[1.46,10000],[1.46,25000],[1.47,30500],[1.48,22000],[1.49,34000],[1.5,27000],[1.51,31000],[1.52,24000],[1.53,36000],[1.54,29500],[1.55,33000],[1.56,19500],[1.56,26000],[1.57,35500],[1.58,30000],[1.59,34000],[1.6,19000],[1.6,28000],[1.61,36000],[1.62,25500],[1.63,41000],[1.63,30500],[1.64,35000],[1.65,27500],[1.66,33500],[1.67,21000],[1.67,25000],[1.67,43000],[1.68,32000],[1.69,36500],[1.7,30000],[1.71,35000],[1.72,27000],[1.73,38000],[1.74,33000],[1.75,40000],[1.76,31500],[1.77,36000],[1.78,28500],[1.79,39500],[1.8,34500],[1.81,26500],[1.81,28500],[1.82,31000]];
const P5_B_MORE = [[1.11,15000],[1.12,19500],[1.13,21500],[1.15,20500],[1.16,17500],[1.18,21000],[1.19,17000],[1.2,22500],[1.22,20500],[1.23,17500],[1.24,22500],[1.25,20000],[1.27,21500],[1.28,19000],[1.29,23000],[1.31,22500],[1.32,26000],[1.34,23500],[1.36,29000],[1.38,27000],[1.4,24500],[1.42,30000],[1.44,27000],[1.47,25500],[1.5,31500],[1.53,29500],[1.57,30500],[1.61,31500],[1.65,32500],[1.7,34000],[1.74,29500],[1.78,34000]];
const P5_B_ZERO = [0.78,0.79,0.81,0.82,0.84,0.85,0.87,0.88,0.9,0.92,0.93,0.95,0.96,0.98,1.0,1.01,1.03,1.05,1.06,1.08,1.1,1.12,1.14,1.15,1.17,1.19,1.21,1.24,1.28];
const P5_C1 = [[1.1,19000],[1.11,12500],[1.11,22000],[1.12,20500],[1.13,24500],[1.13,15500],[1.14,21000],[1.15,18000],[1.15,23500],[1.16,14000],[1.16,25000],[1.17,4000],[1.17,21500],[1.18,24000],[1.19,20000],[1.19,30000],[1.2,30000],[1.2,22500],[1.21,26000],[1.21,8000],[1.22,24500],[1.23,21000],[1.23,26500],[1.24,23000],[1.25,25500],[1.25,1500],[1.26,22000],[1.26,7500],[1.27,28500],[1.28,25000],[1.29,37000],[1.29,2500],[1.3,23500],[1.3,31000],[1.31,39000],[1.32,27500],[1.33,35000],[1.34,44500],[1.34,30000],[1.35,25500],[1.36,38500],[1.37,33000],[1.38,40000],[1.39,21000],[1.39,35500],[1.4,29500],[1.41,46000],[1.42,33500],[1.43,38000],[1.44,25000],[1.45,42000],[1.45,36000],[1.46,31500],[1.47,17500],[1.47,39500],[1.48,34000],[1.49,41500],[1.5,37000],[1.51,30000],[1.52,40500],[1.53,34000],[1.54,24500],[1.55,38500],[1.56,41500],[1.56,27000],[1.57,35500],[1.58,39000],[1.6,40500],[1.6,22000],[1.61,34500],[1.62,46000],[1.63,37000],[1.64,31000],[1.65,41000],[1.66,35500],[1.67,48000],[1.67,28500],[1.67,23000],[1.68,38000],[1.7,36500],[1.71,40000],[1.72,31000],[1.73,38500],[1.74,41000],[1.75,36000],[1.76,42000],[1.77,39000],[1.78,37000],[1.79,42000],[1.8,33000],[1.81,36500],[1.82,31000],[1.82,29500]];
const P5_C1_MORE = [[1.12,23000],[1.13,19500],[1.14,25000],[1.15,21500],[1.16,22500],[1.17,26000],[1.18,20500],[1.19,25500],[1.2,23500],[1.21,21500],[1.22,26500],[1.23,23500],[1.24,25500],[1.25,22000],[1.26,26000],[1.27,24000],[1.28,29000],[1.3,27000],[1.31,33000],[1.33,30000],[1.35,34000],[1.37,29500],[1.4,35000],[1.42,37000],[1.45,33500],[1.48,38000],[1.52,35500],[1.55,36000],[1.58,35000],[1.62,38500],[1.66,37500],[1.7,39500],[1.75,38500],[1.8,40000]];
const P5_C1_ZERO = [0.78,0.8,0.83,0.86,0.89,0.91,0.94,0.97,0.99,1.02,1.04,1.07,1.09,1.11,1.13,1.16,1.18,1.2,1.22,1.25,1.27];
const P5_C2 = [[1.1,7500],[1.11,11000],[1.12,15500],[1.12,2500],[1.13,13000],[1.14,5500],[1.14,16500],[1.15,8500],[1.16,12000],[1.17,14000],[1.18,17000],[1.18,6500],[1.19,24000],[1.19,9500],[1.2,4500],[1.2,18000],[1.21,10500],[1.21,22000],[1.22,13500],[1.23,8000],[1.23,20000],[1.24,15000],[1.24,24000],[1.25,10500],[1.26,31000],[1.26,17000],[1.27,12500],[1.27,2500],[1.28,21000],[1.28,14000],[1.29,34500],[1.29,1000],[1.3,26000],[1.3,11500],[1.31,18500],[1.32,29500],[1.32,13000],[1.33,37500],[1.33,22000],[1.34,16000],[1.34,40500],[1.35,44500],[1.35,25500],[1.36,10500],[1.36,3500],[1.37,33500],[1.37,17500],[1.38,39500],[1.38,8500],[1.39,27000],[1.39,12500],[1.4,7500],[1.4,34000],[1.41,30500],[1.42,45500],[1.42,19000],[1.43,25000],[1.44,37000],[1.45,14000],[1.45,31000],[1.46,41000],[1.46,19500],[1.47,27000],[1.48,36500],[1.49,31500],[1.5,42500],[1.5,25500],[1.51,34000],[1.52,20500],[1.53,39500],[1.54,30000],[1.55,36000],[1.56,45000],[1.56,17000],[1.57,38500],[1.58,32500],[1.59,41000],[1.6,17500],[1.6,35500],[1.61,44000],[1.62,28000],[1.62,37500],[1.63,45500],[1.64,33000],[1.65,36500],[1.66,41000],[1.67,23000],[1.67,28500],[1.68,38000],[1.69,35500],[1.7,39000],[1.71,40000],[1.72,33500],[1.73,37000],[1.75,43500],[1.75,36000],[1.76,39500],[1.77,41000],[1.78,38500],[1.8,36000],[1.81,37000],[1.82,37500]];
const P5_C2_MORE = [[1.13,9500],[1.15,14500],[1.17,11000],[1.19,13500],[1.21,16500],[1.22,19500],[1.24,12000],[1.25,18500],[1.26,22500],[1.27,15500],[1.28,26500],[1.3,20000],[1.31,23500],[1.32,18000],[1.33,27000],[1.35,22500],[1.36,29500],[1.37,24000],[1.39,31500],[1.41,26500],[1.43,33500],[1.45,25000],[1.48,30500],[1.52,34500],[1.55,31000],[1.59,35000],[1.63,33500],[1.68,36500],[1.72,38000],[1.77,36500]];
const P5_C2_ZERO = [0.78,0.784,0.79,0.797,0.8,0.806,0.812,0.82,0.826,0.83,0.838,0.845,0.85,0.857,0.86,0.868,0.874,0.88,0.887,0.89,0.897,0.905,0.91,0.918,0.92,0.927,0.935,0.94,0.946,0.95,0.957,0.965,0.97,0.976,0.98,0.988,0.995,1.0,1.008,1.01,1.017,1.025,1.03,1.036,1.04,1.048,1.055,1.06,1.066,1.07,1.078,1.085,1.09,1.097,1.1,1.108,1.115,1.12,1.127,1.13,1.138,1.145,1.15,1.156,1.16,1.168,1.175,1.18,1.186,1.19,1.2,1.21,1.218,1.23,1.24,1.26,1.28,1.3];
const P5_FIT_B  = [[0.78,0],[0.9,-200],[0.97,200],[1.05,3000],[1.1,6000],[1.2,12000],[1.3,18500],[1.4,24500],[1.5,28500],[1.6,31000],[1.7,33000],[1.82,35500]];
const P5_FIT_C1 = [[0.78,0],[0.9,-300],[0.97,300],[1.05,4000],[1.1,7500],[1.2,15000],[1.3,22000],[1.4,28500],[1.5,32500],[1.6,35000],[1.7,36500],[1.82,38500]];
const P5_FIT_C2 = [[0.78,0],[0.9,-200],[0.97,200],[1.05,2500],[1.1,5500],[1.2,11000],[1.3,18000],[1.4,25000],[1.5,30500],[1.6,34000],[1.7,37000],[1.82,40000]];

// ---------- Panel 6: Malting barley sales vs wheat price index ----------
const P6_B = [[0.5,31000],[0.5,23000],[0.51,28000],[0.52,19500],[0.53,25500],[0.53,9500],[0.54,18500],[0.55,27000],[0.56,22000],[0.57,24500],[0.58,29000],[0.59,33000],[0.6,26000],[0.61,31500],[0.62,7500],[0.62,25000],[0.63,36500],[0.64,14500],[0.65,26000],[0.66,19500],[0.67,29000],[0.68,24000],[0.69,39500],[0.7,18500],[0.71,25500],[0.72,4000],[0.72,35500],[0.73,8000],[0.74,29000],[0.75,23500],[0.77,34000],[0.78,28500],[0.79,21000],[0.8,32000],[0.81,36500],[0.82,22000],[0.83,27500],[0.84,20000],[0.85,33500],[0.86,27500],[0.87,19000],[0.88,31000],[0.9,41500],[0.91,25000],[0.92,12000],[0.93,22500],[0.94,34000],[0.95,26500],[0.97,36500],[0.98,28000],[0.99,8500],[1.0,30000],[1.01,21000],[1.02,35000],[1.03,27000],[1.05,33000],[1.06,22500],[1.07,16000],[1.08,26500],[1.1,30500],[1.11,23000],[1.12,37500],[1.13,28000],[1.14,20000],[1.15,38500],[1.16,22000],[1.17,35000],[1.19,27000],[1.2,11000],[1.21,24000],[1.22,31500],[1.23,16500],[1.25,34500],[1.26,29000],[1.27,8000],[1.28,19500],[1.29,25500],[1.3,40500],[1.3,6500],[1.31,29500],[1.33,22500],[1.34,33000],[1.36,27000],[1.37,12000],[1.38,36000],[1.39,2500],[1.4,23000],[1.41,30000],[1.42,18500],[1.43,26000],[1.44,37500],[1.45,21000],[1.47,28500],[1.48,16000],[1.49,34500],[1.5,26000],[1.51,5000],[1.52,30000],[1.53,37500],[1.55,24000],[1.56,33000],[1.57,7500],[1.58,29000],[1.59,20000],[1.6,38000],[1.62,24500],[1.63,32000],[1.64,2500],[1.65,26500],[1.66,17500],[1.67,34500],[1.68,21500],[1.7,32000],[1.71,1000],[1.72,27500],[1.73,35000],[1.74,19000],[1.75,39500],[1.76,29500],[1.77,5000],[1.78,24000],[1.79,36500],[1.8,20500],[1.82,34500],[1.83,27000],[1.84,10000],[1.85,30000],[1.86,19000],[1.87,37000],[1.88,23500],[1.89,29500],[1.9,13000],[1.91,35500],[1.92,24500],[1.93,1500],[1.94,30000],[1.95,20000],[1.96,26500],[1.97,37500],[1.98,24000],[1.99,18000],[2.0,28000],[2.0,22000]];
const P6_B_ZERO = [0.5,0.53,0.57,0.6,0.63,0.67,0.71,0.74,0.78,0.82,0.86,0.89,0.93,0.96,1.0,1.04,1.08,1.12,1.16,1.2,1.25,1.29,1.33,1.37,1.42,1.46,1.5,1.55,1.59,1.63,1.68,1.72,1.76,1.81,1.85,1.9,1.94,1.98];
const P6_C1 = [[0.5,37000],[0.5,2000],[0.51,28500],[0.52,31500],[0.53,22500],[0.54,26000],[0.55,30000],[0.56,34500],[0.57,24500],[0.58,30500],[0.59,36000],[0.6,29500],[0.61,14000],[0.62,40000],[0.62,5500],[0.63,23500],[0.64,33000],[0.65,41500],[0.66,20000],[0.67,2500],[0.67,32500],[0.68,7500],[0.69,26000],[0.7,44500],[0.71,37500],[0.72,19500],[0.73,27000],[0.74,40000],[0.75,31500],[0.76,2500],[0.77,36500],[0.78,24500],[0.8,34000],[0.81,26500],[0.82,39000],[0.83,27500],[0.84,2500],[0.84,33000],[0.85,35500],[0.86,23000],[0.87,30500],[0.88,37000],[0.9,29000],[0.91,46000],[0.92,4500],[0.92,24000],[0.93,35000],[0.94,27000],[0.96,30000],[0.97,40000],[0.98,23500],[1.0,25000],[1.01,33500],[1.02,38500],[1.04,28000],[1.05,22000],[1.07,34500],[1.08,26000],[1.1,39000],[1.11,30000],[1.12,24000],[1.13,43500],[1.14,47500],[1.14,32000],[1.16,42000],[1.17,27500],[1.18,35500],[1.2,25000],[1.21,37500],[1.22,4000],[1.23,30500],[1.25,19000],[1.26,40500],[1.27,33000],[1.28,24500],[1.3,36500],[1.31,46000],[1.32,28000],[1.33,22000],[1.35,31500],[1.37,39000],[1.38,26500],[1.4,3500],[1.41,33500],[1.42,27000],[1.43,42000],[1.44,38000],[1.45,11500],[1.46,29500],[1.48,35000],[1.5,24000],[1.51,5000],[1.52,29500],[1.54,42000],[1.55,27000],[1.56,31000],[1.58,39000],[1.6,26500],[1.61,41500],[1.62,11000],[1.63,33000],[1.64,24000],[1.66,40500],[1.67,28500],[1.69,34500],[1.7,22500],[1.72,38000],[1.73,26500],[1.75,40500],[1.76,33000],[1.77,45500],[1.78,30000],[1.8,41000],[1.81,26000],[1.82,3000],[1.83,35000],[1.85,30500],[1.86,24500],[1.88,38000],[1.89,33500],[1.9,28000],[1.91,42000],[1.92,36500],[1.94,29500],[1.95,4500],[1.96,34500],[1.97,27000],[1.98,40000],[1.99,31000],[2.0,36000],[2.0,26000]];
const P6_C1_ZERO = [0.51,0.55,0.58,0.62,0.66,0.69,0.73,0.77,0.8,0.84,0.88,0.91,0.95,0.99,1.03,1.06,1.1,1.14,1.18,1.22,1.26,1.3,1.35,1.39,1.43,1.47,1.52,1.56,1.6,1.65,1.69,1.73,1.78,1.82,1.87,1.91,1.95,1.99];
const P6_C2 = [[0.5,25000],[0.51,38000],[0.52,3000],[0.52,22000],[0.53,17500],[0.54,30000],[0.55,12500],[0.56,24000],[0.57,35000],[0.58,27000],[0.59,39000],[0.6,30500],[0.61,34500],[0.62,7500],[0.63,2500],[0.63,26500],[0.64,37500],[0.65,17000],[0.66,25500],[0.67,9000],[0.68,31000],[0.69,28500],[0.7,45000],[0.71,14500],[0.72,34500],[0.73,20000],[0.74,41500],[0.75,30500],[0.77,20500],[0.78,33500],[0.79,8000],[0.8,19000],[0.81,36000],[0.82,29000],[0.83,12000],[0.84,40500],[0.85,34500],[0.86,26000],[0.87,10500],[0.88,33000],[0.89,18500],[0.9,28500],[0.91,45000],[0.92,8500],[0.93,23000],[0.94,34000],[0.95,12500],[0.97,32000],[0.98,19000],[1.0,20500],[1.0,36500],[1.02,11000],[1.03,30000],[1.05,7000],[1.06,44000],[1.07,24500],[1.08,37500],[1.1,15000],[1.11,29000],[1.12,39500],[1.13,17500],[1.14,43500],[1.15,9500],[1.16,30000],[1.18,40000],[1.19,11000],[1.2,26500],[1.22,12500],[1.23,39500],[1.24,17000],[1.25,33500],[1.26,42500],[1.27,13000],[1.28,28500],[1.29,20000],[1.31,46000],[1.32,12500],[1.33,23500],[1.35,36000],[1.36,11500],[1.37,30500],[1.38,7000],[1.4,24000],[1.41,9500],[1.42,33500],[1.43,41000],[1.44,6500],[1.45,29500],[1.46,15000],[1.47,36000],[1.48,22500],[1.5,30000],[1.51,8500],[1.52,39000],[1.53,11500],[1.54,23000],[1.55,41000],[1.56,14500],[1.57,35500],[1.59,9500],[1.6,36000],[1.61,11000],[1.62,27000],[1.63,44500],[1.64,15500],[1.66,39000],[1.67,33500],[1.68,12000],[1.69,29000],[1.7,16000],[1.71,40000],[1.72,10000],[1.73,27500],[1.74,38000],[1.75,14500],[1.76,22500],[1.77,37000],[1.78,28000],[1.79,44000],[1.8,31000],[1.81,11500],[1.82,23500],[1.83,34500],[1.84,14000],[1.86,32000],[1.87,10000],[1.88,25000],[1.89,8500],[1.9,31500],[1.91,15000],[1.92,45500],[1.93,24000],[1.94,35500],[1.95,7000],[1.96,14500],[1.97,31000],[1.98,22000],[1.99,10000],[2.0,19000],[2.0,32000]];
const P6_C2_ZERO = [0.5,0.51,0.52,0.53,0.54,0.55,0.56,0.58,0.59,0.6,0.61,0.63,0.64,0.65,0.66,0.68,0.69,0.7,0.72,0.73,0.75,0.76,0.77,0.79,0.8,0.82,0.83,0.84,0.85,0.87,0.88,0.9,0.91,0.93,0.94,0.96,0.97,0.98,1.0,1.01,1.03,1.04,1.06,1.07,1.09,1.1,1.12,1.13,1.15,1.16,1.17,1.19,1.2,1.22,1.23,1.25,1.26,1.28,1.29,1.31,1.32,1.34,1.35,1.37,1.38,1.4,1.41,1.42,1.44,1.45,1.47,1.48,1.5,1.51,1.53,1.54,1.56,1.57,1.59,1.6,1.62,1.63,1.65,1.66,1.68,1.69,1.71,1.72,1.74,1.75,1.77,1.78,1.8,1.81,1.83,1.84,1.86,1.87,1.88,1.9,1.91,1.93,1.94,1.96,1.97,1.99,2.0];
const P6_FIT_B  = [[0.5,9500],[0.6,10000],[0.7,11200],[0.8,12200],[0.9,12900],[1.0,13500],[1.1,14100],[1.2,14700],[1.3,15200],[1.4,15600],[1.5,16000],[1.6,16400],[1.7,16700],[1.8,17000],[2.0,17200]];
const P6_FIT_C1 = [[0.5,11300],[0.6,12000],[0.7,13000],[0.8,14000],[0.9,15000],[1.0,15800],[1.1,16800],[1.2,17800],[1.3,18500],[1.4,19000],[1.5,19300],[1.6,19600],[1.7,19900],[1.8,20100],[2.0,20300]];
const P6_FIT_C2 = [[0.5,10300],[0.6,10600],[0.7,11700],[0.8,12500],[0.9,13000],[1.0,13500],[1.1,14000],[1.2,14600],[1.3,15100],[1.4,15400],[1.5,15600],[1.6,15800],[1.7,16000],[1.8,16100],[2.0,16200]];

// ---------- Axis ranges & titles ----------
const X_AXES = [{min:0.8,max:1.6,step:0.2},{min:0.8,max:1.6,step:0.2},{min:0.8,max:1.6,step:0.2},{min:0.8,max:1.6,step:0.2},{min:0.8,max:1.8,step:0.2},{min:0.5,max:2,step:0.5}];
const Y_AXES = [{min:0,max:50000,step:10000},{min:20000,max:100000,step:20000},{min:0,max:40000,step:10000},{min:0,max:10000,step:2000},{min:0,max:50000,step:10000},{min:0,max:50000,step:10000}];
const X_TITLES = ['Malting barley-to-wheat price ratio','Malting barley-to-wheat price ratio','Malting barley-to-wheat price ratio','Malting barley-to-wheat price ratio','Malting-to-fodder barley price ratio','Wheat price index (1 = Avg. 2000-2009)'];
const Y_TITLES = ['Malting barley sales [t]','Winter wheat production [t]','Summer fodder barley production [t]','Summer barley area [ha]','Malting barley sales [t]','Malting barley sales [t]'];

const z = a => a.map(x => [x, 0]);
const SCAT = [
  [P1_B.concat(P1_B_MORE, z(P1_B_ZERO)), P1_C1.concat(P1_C1_MORE, z(P1_C1_ZERO)), P1_C2.concat(P1_C2_MORE, z(P1_C2_ZERO))],
  [P2_B.concat(P2_B_MORE), P2_C1.concat(P2_C1_MORE), P2_C2.concat(P2_C2_MORE)],
  [P3_B.concat(P3_B_MORE), P3_C1.concat(P3_C1_MORE), P3_C2.concat(P3_C2_MORE)],
  [P4_B.concat(P4_B_MORE), P4_C1.concat(P4_C1_MORE), P4_C2.concat(P4_C2_MORE)],
  [z(P5_B_ZERO).concat(P5_B, P5_B_MORE), z(P5_C1_ZERO).concat(P5_C1, P5_C1_MORE), z(P5_C2_ZERO).concat(P5_C2, P5_C2_MORE)],
  [z(P6_B_ZERO).concat(P6_B), z(P6_C1_ZERO).concat(P6_C1), z(P6_C2_ZERO).concat(P6_C2)]
];
const FITS = [
  [P1_FIT_B,P1_FIT_C1,P1_FIT_C2],[P2_FIT_B,P2_FIT_C1,P2_FIT_C2],[P3_FIT_B,P3_FIT_C1,P3_FIT_C2],
  [P4_FIT_B,P4_FIT_C1,P4_FIT_C2],[P5_FIT_B,P5_FIT_C1,P5_FIT_C2],[P6_FIT_B,P6_FIT_C1,P6_FIT_C2]
];

// ---------- Layout (pixels) ----------
// lg: [scatter-legend left, top, line-legend left, row pitch, line text pad, scatter text pad]
const LAYOUT = [
  {g:[15.7,19,482.3,290],   f:[4.7,8.7,504.3,314],    tb:21, tt:10.3, tl:11, tr:18, mx:22, my:22, gx:42, gy:78, fs:17.4, lg:[16,386,241,23.5,5,5]},
  {g:[687.7,43.3,474,274],  f:[676.7,9,496.6,318.7],  tb:14.4, tt:34.3, tl:11, tr:17, mx:20, my:22, gx:39.7, gy:88, fs:17.4, lg:[688,392,910,23.5,4,4], ypad:[0,0,0,24]},
  {g:[17.5,528.5,504.2,308.2], f:[5.5,517.5,528.8,330.2], tb:16, tt:11, tl:12, tr:18, mx:20, my:24, gx:40, gy:82, fs:18.2, lg:[18,913,253,25,5,5], lw:64},
  {g:[689,527.3,481,298.7], f:[677,517.3,505,319.4],  tb:18, tt:10, tl:12, tr:19, mx:19, my:22, gx:39, gy:77, fs:17.4, lg:[688,900,913,24,5,5]},
  {g:[25.3,1055.7,464.5,296.3], f:[5,1044.7,504.4,319.3], tb:19, tt:11, tl:20.3, tr:25, mx:21, my:30, gx:41, gy:86, fs:17.4, lg:[16,1428,241,24.5,5,5]},
  {g:[689,1055.7,481,299.3], f:[677.5,1044.7,504.5,320.3], tb:17, tt:11, tl:11.5, tr:19, mx:20, my:22, gx:40, gy:77, fs:17.4, lg:[688,1430,913,24,5,5]}
];

const FONT = '"Liberation Sans", Arial, Helvetica, sans-serif';
const GRID_C = '#34557a', FRAME_C = '#93a9c0', TICK_C = '#2f4d70', TITLE_C = '#3a5d82', LEG_C = '#1e1e1e';
const SC_COL = ['#de6584', '#f8d23e', '#7d93ab'];
const SC_SYM = ['circle', 'diamond', 'diamond'];
const SC_SIZE = [6, 8.5, 8.5];
const LN_COL = ['#c8173f', '#ff8a0a', '#1e3a5f'];

function fmtX(v){ let s = String(Math.round(v*100)/100); return s.startsWith('0.') ? s.slice(1) : s; }
function fmtY(v){ return String(Math.round(v)); }

const grid=[], xAxis=[], yAxis=[], series=[], legend=[], graphic=[];
LAYOUT.forEach((L,i)=>{
  grid.push({left:L.g[0], top:L.g[1], width:L.g[2], height:L.g[3], containLabel:false});
  const lsG = {color:GRID_C, width:1.6};
  const XA = X_AXES[i], YA = Y_AXES[i];
  xAxis.push({gridIndex:i, type:'value', position:'bottom', min:XA.min, max:XA.max, interval:XA.step,
    axisLine:{show:false}, axisTick:{show:true, length:L.tb, lineStyle:lsG},
    axisLabel:{margin:L.mx, formatter:fmtX, fontSize:L.fs, color:TICK_C, fontFamily:FONT},
    splitLine:{show:true, lineStyle:lsG},
    name:X_TITLES[i], nameLocation:'middle', nameGap:L.gx, nameTextStyle:{fontSize:L.fs, color:TITLE_C, fontFamily:FONT}});
  xAxis.push({gridIndex:i, type:'value', position:'top', min:XA.min, max:XA.max, interval:XA.step,
    axisLine:{show:false}, axisTick:{show:true, length:L.tt, lineStyle:lsG}, axisLabel:{show:false}, splitLine:{show:false}});
  yAxis.push({gridIndex:i, type:'value', position:'right', min:YA.min, max:YA.max, interval:YA.step,
    axisLine:{show:false}, axisTick:{show:true, length:L.tr, lineStyle:lsG},
    axisLabel:{margin:L.my, formatter:fmtY, fontSize:L.fs, color:TICK_C, fontFamily:FONT},
    splitLine:{show:true, lineStyle:lsG},
    name:Y_TITLES[i], nameLocation:'middle', nameRotate:90, nameGap:L.gy,
    nameTextStyle:Object.assign({fontSize:L.fs, color:TITLE_C, fontFamily:FONT}, L.ypad?{padding:L.ypad}:{})});
  yAxis.push({gridIndex:i, type:'value', position:'left', min:YA.min, max:YA.max, interval:YA.step,
    axisLine:{show:false}, axisTick:{show:true, length:L.tl, lineStyle:lsG}, axisLabel:{show:false}, splitLine:{show:false}});

  for(let k=0;k<3;k++){
    series.push({type:'scatter', name:NAMES[k], xAxisIndex:2*i, yAxisIndex:2*i, data:SCAT[i][k],
      symbol:SC_SYM[k], symbolSize:SC_SIZE[k], clip:false, silent:true,
      itemStyle:{color:'rgba(255,255,255,0)', borderColor:SC_COL[k], borderWidth:1.3}});
  }
  for(let k=0;k<3;k++){
    series.push({type:'line', name:'fit|'+NAMES[k], xAxisIndex:2*i, yAxisIndex:2*i, data:FITS[i][k],
      smooth:0.35, showSymbol:false, symbol:'none', clip:false, silent:true,
      lineStyle:{color:LN_COL[k], width:2.3}, itemStyle:{color:LN_COL[k]}});
  }
  const lg = L.lg, rowH = L.fs + 0.6, gap = lg[3] - rowH;
  legend.push({orient:'vertical', left:lg[0], top:lg[1], itemWidth:8, itemHeight:8, itemGap:gap, padding:0,
    data:NAMES.slice(), selectedMode:false,
    textStyle:{fontSize:L.fs, lineHeight:rowH, color:LEG_C, fontFamily:FONT, padding:[0,0,0,lg[5]]}});
  legend.push({orient:'vertical', left:lg[2], top:lg[1], itemWidth:L.lw||61, itemHeight:2.5, itemGap:gap, padding:0,
    icon:'rect', data:NAMES.map(n=>'fit|'+n), selectedMode:false,
    formatter:n=>n.replace('fit|',''),
    textStyle:{fontSize:L.fs, lineHeight:rowH, color:LEG_C, fontFamily:FONT, padding:[0,0,0,lg[4]]}});
  graphic.push({type:'rect', silent:true, z:-1, shape:{x:L.f[0], y:L.f[1], width:L.f[2], height:L.f[3]},
    style:{fill:null, stroke:FRAME_C, lineWidth:1.6}});
});

const chart = echarts.init(document.getElementById('c'), null, {renderer:'canvas'});
chart.setOption({animation:false, backgroundColor:'#fff', grid, xAxis, yAxis, series, legend, graphic});
</script>
</body>
</html>
